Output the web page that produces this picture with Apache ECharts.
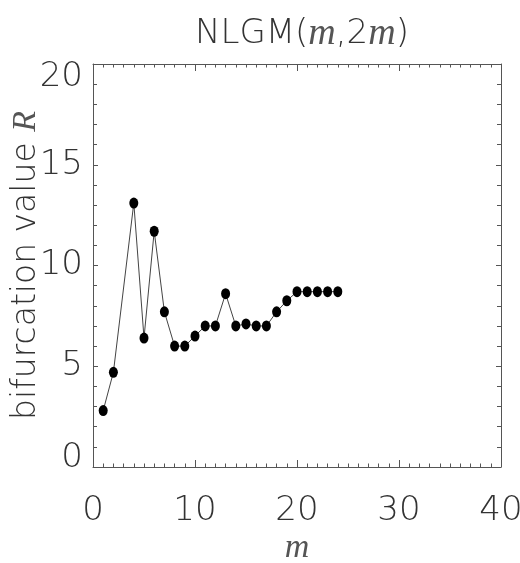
<!DOCTYPE html>
<html>
<head>
<meta charset="utf-8">
<script src="https://cdn.jsdelivr.net/npm/echarts@6/dist/echarts.min.js"></script>
<style>
  html, body { margin: 0; padding: 0; background: #fff; }
  #chart { width: 520px; height: 563px; }
</style>
</head>
<body>
<div id="chart"></div>
<script>
// m values (m = 3 has no point)
var mValues = [1, 2, 4, 5, 6, 7, 8, 9, 10, 11, 12, 13, 14, 15, 16, 17, 18, 19, 20, 21, 22, 23, 24]
// bifurcation value R
var rValues = [2.8, 4.7, 13.1, 6.4, 11.7, 7.7, 6.0, 6.0, 6.5, 7.0, 7.0, 8.6, 7.0, 7.1, 7.0, 7.0, 7.7, 8.25, 8.7, 8.7, 8.7, 8.7, 8.7]
var xTicks = [0, 10, 20, 30, 40]
var yTicks = [0, 5, 10, 15, 20]

var labelFont = 'DejaVu Sans'
var axisColor = '#555'

function tickStyle(len, minorLen, split) {
	return {
		axisTick: { show: true, inside: true, length: len, lineStyle: { color: axisColor, width: 1 } },
		minorTick: { show: true, splitNumber: split, length: minorLen, lineStyle: { color: axisColor, width: 1 } },
		axisLine: { show: true, onZero: false, lineStyle: { color: axisColor, width: 1 } },
		splitLine: { show: false }
	}
}

var thin = { fontFamily: labelFont, fontWeight: 200, color: '#333' }
var ital = { fontFamily: 'Liberation Serif', fontStyle: 'italic', fontWeight: 'normal', color: '#555' }

var myChart = echarts.init(document.getElementById('chart'))
var points = mValues.map(function (m, i) { return [m, rValues[i]] })

var option = {
	animation: false,
	backgroundColor: '#fff',
	title: {
		text: '{a|NLGM(}{i|m}{a|,2}{i|m}{a|)}',
		left: 297,
		textAlign: 'center',
		top: 10,
		textStyle: {
			fontWeight: 'normal',
			rich: {
				a: Object.assign({ fontSize: 34 }, thin),
				i: Object.assign({ fontSize: 38 }, ital)
			}
		}
	},
	grid: { left: 93, right: 19, top: 64, bottom: 96, outerBoundsMode: 'none', containLabel: false },
	xAxis: [Object.assign({
		type: 'value',
		min: xTicks[0],
		max: xTicks[xTicks.length - 1],
		interval: 10,
		name: 'm',
		nameLocation: 'middle',
		nameGap: 64,
		nameMoveOverlap: false,
		nameTextStyle: Object.assign({ fontSize: 34 }, ital),
		axisLabel: Object.assign({ margin: 27, fontSize: 34 }, thin)
	}, tickStyle(7, 3.5, 10)), Object.assign({
		type: 'value',
		position: 'top',
		min: xTicks[0],
		max: xTicks[xTicks.length - 1],
		interval: 10,
		axisLabel: { show: false }
	}, tickStyle(7, 3.5, 10))],
	yAxis: [Object.assign({
		type: 'value',
		min: yTicks[0],
		max: yTicks[yTicks.length - 1],
		interval: 5,
		name: '{a|bifurcation value }{i|R}',
		nameLocation: 'middle',
		nameGap: 50,
		nameMoveOverlap: false,
		nameTextStyle: {
			fontWeight: 'normal',
			rich: {
				a: Object.assign({ fontSize: 33 }, thin),
				i: Object.assign({ fontSize: 34 }, ital)
			}
		},
		axisLabel: {
			margin: 10,
			fontFamily: labelFont, fontWeight: 200, fontSize: 34, color: '#333',
			formatter: function (v) {
				if (v === 20) return '{top|20}'
				if (v === 0) return '{bot|0}'
				return '{n|' + v + '}'
			},
			rich: {
				n: Object.assign({ fontSize: 34 }, thin),
				top: Object.assign({ fontSize: 34, padding: [26, 0, 0, 0] }, thin),
				bot: Object.assign({ fontSize: 34, padding: [0, 0, 18, 0] }, thin)
			}
		}
	}, tickStyle(5, 4, 5)), Object.assign({
		type: 'value',
		position: 'right',
		min: yTicks[0],
		max: yTicks[yTicks.length - 1],
		interval: 5,
		axisLabel: { show: false }
	}, tickStyle(5, 4, 5))],
	series: [{
		type: 'line',
		data: points,
		symbol: 'circle',
		symbolSize: [9, 11],
		itemStyle: { color: '#000' },
		lineStyle: { color: '#444', width: 1 }
	}]
}
myChart.setOption(option)
</script>
</body>
</html>
